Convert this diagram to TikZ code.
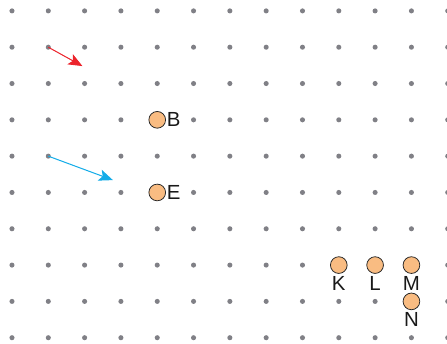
\documentclass[tikz,border=0pt]{standalone}
\usepackage{fontspec}
\setmainfont{Liberation Sans}
\usetikzlibrary{arrows.meta}
\definecolor{dotgray}{RGB}{128,128,134}
\definecolor{ptorange}{RGB}{249,188,130}
\definecolor{vecred}{RGB}{236,36,44}
\definecolor{vecblue}{RGB}{20,172,232}
\tikzset{
  pt/.style={circle,draw=black!85,line width=0.6pt,fill=ptorange,minimum size=0.46cm,inner sep=0pt},
  lab/.style={font=\fontsize{16}{19}\selectfont,inner sep=0.5pt,text=black!90},
  vec/.style={line width=0.8pt,-{Stealth[length=11pt,width=9pt,inset=2.5pt]}}
}
\begin{document}
\begin{tikzpicture}[x=1cm,y=-1cm]
\useasboundingbox (-0.33,-0.30) rectangle (11.98,9.17);
% dot grid
\foreach \i in {0,...,12}
  \foreach \j in {0,...,9}
    \fill[dotgray] (\i,\j) circle (0.07);
% vectors
\coordinate (r0) at (1,1);
\coordinate (r1) at (1.94,1.52);
\draw[vec,vecred] (r0) -- (r1);
\coordinate (b0) at (1,4);
\coordinate (b1) at (2.78,4.66);
\draw[vec,vecblue] (b0) -- (b1);
% points
\node[pt,label={[lab,label distance=0pt]right:B}] (B) at (4,3) {};
\node[pt,label={[lab,label distance=0pt]right:E}] (E) at (4,5) {};
\node[pt,label={[lab,label distance=1pt]below:K}] (K) at (9,7) {};
\node[pt,label={[lab,label distance=1pt]below:L}] (L) at (10,7) {};
\node[pt,label={[lab,label distance=1pt]below:M}] (M) at (11,7) {};
\node[pt,label={[lab,label distance=1pt]below:N}] (N) at (11,8) {};
\end{tikzpicture}
\end{document}
